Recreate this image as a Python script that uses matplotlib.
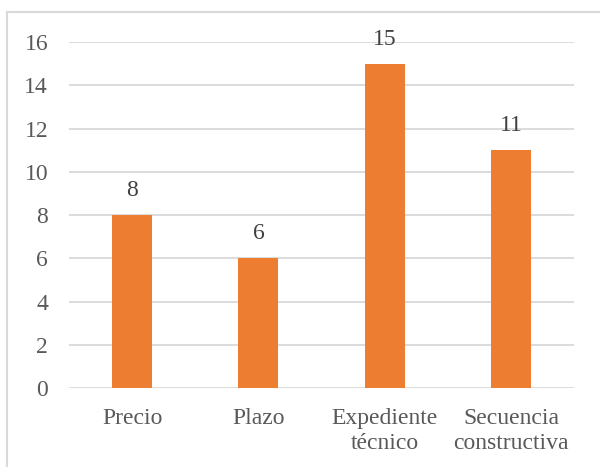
import matplotlib.pyplot as plt
from matplotlib.lines import Line2D

# data
categorias = ['Precio', 'Plazo', 'Expediente\ntécnico', 'Secuencia\nconstructiva']
valores = [8, 6, 15, 11]
yticks = [0, 2, 4, 6, 8, 10, 12, 14, 16]

plt.rcParams['font.family'] = 'serif'
plt.rcParams['font.serif'] = ['Liberation Serif', 'DejaVu Serif']

fig = plt.figure(figsize=(6, 4.67), dpi=100)
ax = fig.add_axes([0.115, 0.169, 0.842, 0.741])

x = range(len(categorias))
bars = ax.bar(x, valores, width=0.317, color='#ED7D31', zorder=3)

for b, v in zip(bars, valores):
    ax.annotate(str(v), (b.get_x() + b.get_width() / 2, v),
                xytext=(0, 10), textcoords='offset points',
                ha='center', va='bottom', fontsize=17, color='#404040', zorder=4)

ax.set_xlim(-0.5, len(categorias) - 0.5)
ax.set_ylim(0, 16)
ax.set_yticks(yticks)
ax.set_xticks(list(x))
ax.set_xticklabels(categorias, linespacing=1.3)
ax.tick_params(axis='y', length=0, pad=15, labelsize=17, labelcolor='#595959')
ax.tick_params(axis='x', length=0, pad=14, labelsize=17, labelcolor='#595959')
ax.grid(axis='y', color='#D9D9D9', linewidth=1.3, zorder=0)
for s in ax.spines.values():
    s.set_visible(False)

# chart area border (left and top visible)
fig.add_artist(Line2D([6.5 / 600, 6.5 / 600], [0, 1 - 12 / 467], color='#D9D9D9', linewidth=1.5))
fig.add_artist(Line2D([6.5 / 600, 1], [1 - 12 / 467, 1 - 12 / 467], color='#D9D9D9', linewidth=1.5))

fig.savefig('out.png', dpi=100)
